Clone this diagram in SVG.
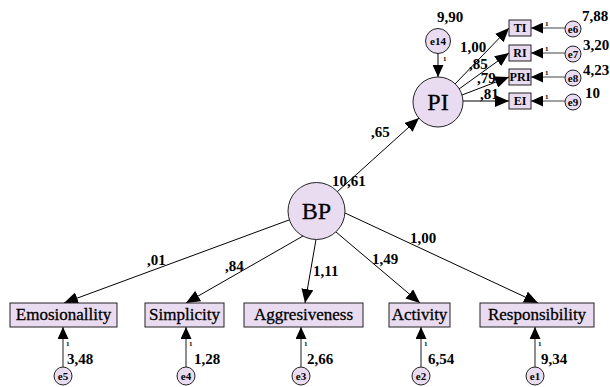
<svg xmlns="http://www.w3.org/2000/svg" width="610" height="387" viewBox="0 0 610 387" font-family="'Liberation Serif', 'Times New Roman', serif">
<defs>
<marker id="ah" viewBox="0 0 14 12" refX="14" refY="6" markerWidth="14" markerHeight="12" markerUnits="userSpaceOnUse" orient="auto"><path d="M0,0 L14,6 L0,12 z" fill="#000"/></marker>
<marker id="ahs" viewBox="0 0 12 11" refX="12" refY="5.5" markerWidth="12" markerHeight="11" markerUnits="userSpaceOnUse" orient="auto"><path d="M0,0 L12,5.5 L0,11 z" fill="#000"/></marker>
</defs>
<style>
.n{fill:#EADCF0;stroke:#222;stroke-width:1}
.c{stroke:#000;stroke-width:1;fill:none}
.e{stroke:#444;stroke-width:1.2;fill:none}
.t{font-family:"Liberation Serif","Times New Roman",serif;fill:#000}
.lbl{font-size:17px;text-anchor:middle;stroke:#000;stroke-width:0.3}
.big{font-size:24px;text-anchor:middle;stroke:#000;stroke-width:0.3}
.num{font-size:15px;font-weight:bold}
.one{font-size:7px;font-weight:bold}
.et{font-size:11px;font-weight:bold;text-anchor:middle}
.bt{font-size:12px;font-weight:bold;text-anchor:middle}
</style>
<rect width="610" height="387" fill="#fff"/>
<g id="connectors">
<line class="c" x1="337" y1="192" x2="419" y2="118" marker-end="url(#ah)"/>
<line class="c" x1="289" y1="220" x2="64" y2="303" marker-end="url(#ah)"/>
<line class="c" x1="303" y1="236" x2="186" y2="303" marker-end="url(#ah)"/>
<line class="c" x1="316" y1="239.5" x2="305" y2="303" marker-end="url(#ah)"/>
<line class="c" x1="336" y1="232" x2="420" y2="303" marker-end="url(#ah)"/>
<line class="c" x1="345" y1="213" x2="538" y2="303" marker-end="url(#ah)"/>
<line class="c" x1="455" y1="84" x2="509" y2="28" marker-end="url(#ah)"/>
<line class="c" x1="459" y1="89" x2="509" y2="53" marker-end="url(#ah)"/>
<line class="c" x1="462" y1="95" x2="509" y2="77" marker-end="url(#ah)"/>
<line class="c" x1="463" y1="101" x2="509" y2="101" marker-end="url(#ah)"/>
<line class="c" x1="438" y1="53" x2="438" y2="77" marker-end="url(#ahs)"/>
<line class="e" x1="565" y1="28" x2="531" y2="28" marker-end="url(#ahs)"/>
<line class="e" x1="565" y1="53" x2="531" y2="53" marker-end="url(#ahs)"/>
<line class="e" x1="565" y1="77" x2="531" y2="77" marker-end="url(#ahs)"/>
<line class="e" x1="565" y1="101" x2="531" y2="101" marker-end="url(#ahs)"/>
<line class="e" x1="63" y1="367" x2="63" y2="327" marker-end="url(#ahs)"/>
<line class="e" x1="186" y1="367" x2="186" y2="327" marker-end="url(#ahs)"/>
<line class="e" x1="301" y1="367" x2="301" y2="327" marker-end="url(#ahs)"/>
<line class="e" x1="421" y1="367" x2="421" y2="327" marker-end="url(#ahs)"/>
<line class="e" x1="535" y1="367" x2="535" y2="327" marker-end="url(#ahs)"/>
<text class="t num" x="371" y="137">,65</text>
<text class="t num" x="147" y="265">,01</text>
<text class="t num" x="225" y="271">,84</text>
<text class="t num" x="313" y="276">1,11</text>
<text class="t num" x="372" y="264">1,49</text>
<text class="t num" x="410" y="243">1,00</text>
<text class="t num" x="460" y="52">1,00</text>
<text class="t num" x="469" y="69">,85</text>
<text class="t num" x="477" y="83">,79</text>
<text class="t num" x="480" y="99">,81</text>
<text class="t one" x="443" y="61">1</text>
<text class="t one" x="545" y="26">1</text>
<text class="t one" x="545" y="51">1</text>
<text class="t one" x="545" y="75">1</text>
<text class="t one" x="545" y="99">1</text>
<text class="t one" x="66" y="346">1</text>
<text class="t one" x="189" y="346">1</text>
<text class="t one" x="304" y="346">1</text>
<text class="t one" x="424" y="346">1</text>
<text class="t one" x="538" y="346">1</text>
</g>
<g id="BP"><circle class="n" cx="316.5" cy="211" r="28.5"/><text class="t big" x="316.5" y="219">BP</text><text class="t num" x="332" y="186">10,61</text></g>
<g id="PI"><circle class="n" cx="438" cy="102" r="25"/><text class="t big" x="438" y="110">PI</text></g>
<g id="e14"><circle class="n" cx="438" cy="41" r="12.5"/><text class="t et" x="438" y="45">e14</text><text class="t num" x="437" y="22">9,90</text></g>
<g id="TI"><rect class="n" x="509" y="20" width="22" height="16"/><text class="t bt" x="520" y="32">TI</text></g>
<g id="RI"><rect class="n" x="509" y="45" width="22" height="16"/><text class="t bt" x="520" y="57">RI</text></g>
<g id="PRI"><rect class="n" x="509" y="69" width="22" height="16"/><text class="t bt" x="520" y="81" textLength="21" lengthAdjust="spacingAndGlyphs">PRI</text></g>
<g id="EI"><rect class="n" x="509" y="93" width="22" height="16"/><text class="t bt" x="520" y="105">EI</text></g>
<g id="e6"><circle class="n" cx="573" cy="29" r="8"/><text class="t et" x="573" y="33">e6</text><text class="t num" x="582" y="21">7,88</text></g>
<g id="e7"><circle class="n" cx="573" cy="54" r="8"/><text class="t et" x="573" y="58">e7</text><text class="t num" x="583" y="50">3,20</text></g>
<g id="e8"><circle class="n" cx="573" cy="78" r="8"/><text class="t et" x="573" y="82">e8</text><text class="t num" x="583" y="75">4,23</text></g>
<g id="e9"><circle class="n" cx="573" cy="102" r="8"/><text class="t et" x="573" y="106">e9</text><text class="t num" x="585" y="98">10</text></g>
<g id="Emosionallity"><rect class="n" x="10" y="303" width="107" height="24"/><text class="t lbl" x="63.5" y="320">Emosionallity</text></g>
<g id="Simplicity"><rect class="n" x="145" y="303" width="79" height="24"/><text class="t lbl" x="184.5" y="320">Simplicity</text></g>
<g id="Aggresiveness"><rect class="n" x="244" y="303" width="119" height="24"/><text class="t lbl" x="303.5" y="320">Aggresiveness</text></g>
<g id="Activity"><rect class="n" x="389" y="303" width="61" height="24"/><text class="t lbl" x="419.5" y="320">Activity</text></g>
<g id="Responsibility"><rect class="n" x="480" y="303" width="114" height="24"/><text class="t lbl" x="537" y="320">Responsibility</text></g>
<g id="e5"><circle class="n" cx="63" cy="376" r="9"/><text class="t et" x="63" y="380">e5</text><text class="t num" x="67" y="364">3,48</text></g>
<g id="e4"><circle class="n" cx="186" cy="376" r="9"/><text class="t et" x="186" y="380">e4</text><text class="t num" x="194" y="364">1,28</text></g>
<g id="e3"><circle class="n" cx="301" cy="376" r="9"/><text class="t et" x="301" y="380">e3</text><text class="t num" x="307" y="364">2,66</text></g>
<g id="e2"><circle class="n" cx="421" cy="376" r="9"/><text class="t et" x="421" y="380">e2</text><text class="t num" x="428" y="364">6,54</text></g>
<g id="e1"><circle class="n" cx="535" cy="376" r="9"/><text class="t et" x="535" y="380">e1</text><text class="t num" x="541" y="364">9,34</text></g>
</svg>
